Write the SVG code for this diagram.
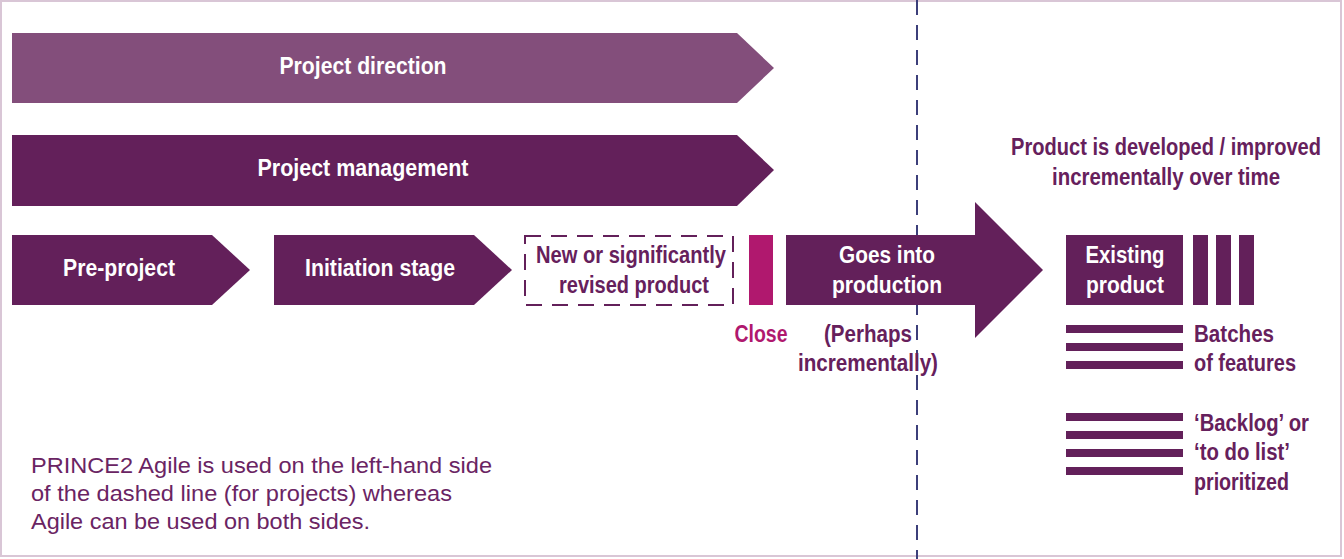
<svg xmlns="http://www.w3.org/2000/svg" width="1344" height="559" viewBox="0 0 1344 559">
  <style>
    .lbl { font-family: "Liberation Sans Narrow", "Liberation Sans", Arial, sans-serif; font-weight: bold; font-size: 23px; fill: #ffffff; text-anchor: middle; }
    .plbl { font-family: "Liberation Sans Narrow", "Liberation Sans", Arial, sans-serif; font-weight: bold; font-size: 23px; fill: #66205C; }
    .note { font-family: "Liberation Sans", Arial, sans-serif; font-size: 22px; fill: #6A2463; }
    .dark { fill: #63205A; }
    .bar { fill: #63205A; }
  </style>
  <rect x="1" y="1" width="1340" height="555" fill="#ffffff" stroke="#D9C6D6" stroke-width="2"/>

  <g id="divider">
    <line x1="917" y1="0" x2="917" y2="559" stroke="#3C3F7A" stroke-width="2" stroke-dasharray="15 10"/>
  </g>

  <g id="project-direction">
    <polygon points="12,33 737,33 774,68 737,103 12,103" fill="#834E7B"/>
    <text class="lbl" x="363" y="74" textLength="167" lengthAdjust="spacingAndGlyphs">Project direction</text>
  </g>
  <g id="project-management">
    <polygon points="12,135 737,135 774,170 737,206 12,206" class="dark"/>
    <text class="lbl" x="363" y="176" textLength="211" lengthAdjust="spacingAndGlyphs">Project management</text>
  </g>
  <g id="pre-project">
    <polygon points="12,235 212,235 250,270 212,305 12,305" class="dark"/>
    <text class="lbl" x="119" y="276" textLength="112" lengthAdjust="spacingAndGlyphs">Pre-project</text>
  </g>
  <g id="initiation-stage">
    <polygon points="274,235 474,235 512,270 474,305 274,305" class="dark"/>
    <text class="lbl" x="380" y="276" textLength="150" lengthAdjust="spacingAndGlyphs">Initiation stage</text>
  </g>
  <g id="new-product">
    <rect x="525" y="236" width="208" height="69" fill="none" stroke="#63205A" stroke-width="2" stroke-dasharray="16 10"/>
    <text class="plbl" x="631" y="263" text-anchor="middle" textLength="190" lengthAdjust="spacingAndGlyphs">New or significantly</text>
    <text class="plbl" x="634" y="293" text-anchor="middle" textLength="150" lengthAdjust="spacingAndGlyphs">revised product</text>
  </g>
  <g id="close">
    <rect x="749" y="235" width="24" height="70" fill="#B0186E"/>
    <text class="plbl" x="761" y="342" text-anchor="middle" style="fill:#B0186E" textLength="53" lengthAdjust="spacingAndGlyphs">Close</text>
  </g>
  <g id="goes-into-production">
    <polygon points="786,235 975,235 975,202 1043,270 975,338 975,305 786,305" class="dark"/>
    <text class="lbl" x="887" y="263" textLength="96" lengthAdjust="spacingAndGlyphs">Goes into</text>
    <text class="lbl" x="887" y="293" textLength="110" lengthAdjust="spacingAndGlyphs">production</text>
    <text class="plbl" x="868" y="342" text-anchor="middle" textLength="88" lengthAdjust="spacingAndGlyphs">(Perhaps</text>
    <text class="plbl" x="868" y="371" text-anchor="middle" textLength="140" lengthAdjust="spacingAndGlyphs">incrementally)</text>
  </g>
  <g id="product-heading">
    <text class="plbl" x="1166" y="155" text-anchor="middle" textLength="310" lengthAdjust="spacingAndGlyphs">Product is developed / improved</text>
    <text class="plbl" x="1166" y="185" text-anchor="middle" textLength="228" lengthAdjust="spacingAndGlyphs">incrementally over time</text>
  </g>
  <g id="existing-product">
    <rect x="1066" y="235" width="117" height="70" class="dark"/>
    <text class="lbl" x="1125" y="263" textLength="79" lengthAdjust="spacingAndGlyphs">Existing</text>
    <text class="lbl" x="1125" y="293" textLength="78" lengthAdjust="spacingAndGlyphs">product</text>
    <rect x="1193" y="235" width="15" height="70" class="bar"/>
    <rect x="1216" y="235" width="15" height="70" class="bar"/>
    <rect x="1239" y="235" width="15" height="70" class="bar"/>
  </g>
  <g id="batches">
    <rect x="1066" y="325" width="117" height="8" class="bar"/>
    <rect x="1066" y="343" width="117" height="8" class="bar"/>
    <rect x="1066" y="361" width="117" height="8" class="bar"/>
    <text class="plbl" x="1194" y="342" textLength="80" lengthAdjust="spacingAndGlyphs">Batches</text>
    <text class="plbl" x="1194" y="371" textLength="102" lengthAdjust="spacingAndGlyphs">of features</text>
  </g>
  <g id="backlog">
    <rect x="1066" y="413" width="117" height="8" class="bar"/>
    <rect x="1066" y="431" width="117" height="8" class="bar"/>
    <rect x="1066" y="449" width="117" height="8" class="bar"/>
    <rect x="1066" y="467" width="117" height="8" class="bar"/>
    <text class="plbl" x="1194" y="431" textLength="115" lengthAdjust="spacingAndGlyphs">‘Backlog’ or</text>
    <text class="plbl" x="1194" y="460" textLength="96" lengthAdjust="spacingAndGlyphs">‘to do list’</text>
    <text class="plbl" x="1194" y="490" textLength="95" lengthAdjust="spacingAndGlyphs">prioritized</text>
  </g>
  <g id="note">
    <text class="note" x="31" y="473" textLength="461" lengthAdjust="spacingAndGlyphs">PRINCE2 Agile is used on the left-hand side</text>
    <text class="note" x="31" y="501" textLength="421" lengthAdjust="spacingAndGlyphs">of the dashed line (for projects) whereas</text>
    <text class="note" x="31" y="529" textLength="339" lengthAdjust="spacingAndGlyphs">Agile can be used on both sides.</text>
  </g>
</svg>
